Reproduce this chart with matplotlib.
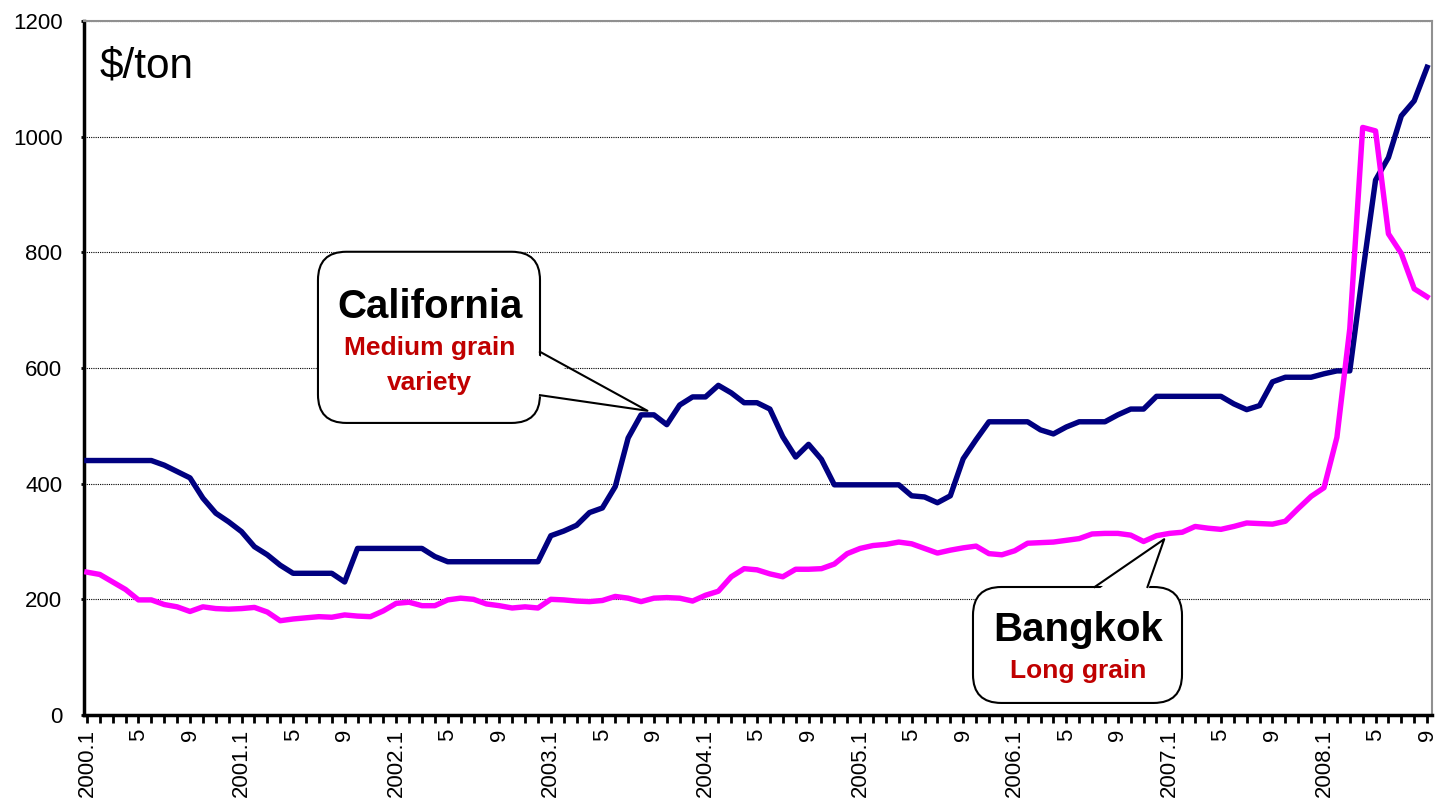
import numpy as np
import matplotlib
matplotlib.use("Agg")
import matplotlib.pyplot as plt
from matplotlib.patches import FancyBboxPatch, Polygon

plt.rcParams['font.family'] = ['Liberation Sans', 'DejaVu Sans']

# monthly prices, 2000.1 .. 2008.9 ($/ton)
california = [440, 440, 440, 440, 440, 440, 432, 421, 410, 375, 349, 334,
              317, 291, 277, 259, 245, 245, 245, 245, 230, 288, 288, 288,
              288, 288, 288, 274, 265, 265, 265, 265, 265, 265, 265, 265,
              310, 318, 328, 350, 358, 395, 479, 519, 519, 502, 536, 550,
              550, 570, 557, 540, 540, 529, 481, 446, 468, 442, 398, 398,
              398, 398, 398, 398, 379, 377, 367, 379, 443, 476, 507, 507,
              507, 507, 493, 486, 498, 507, 507, 507, 519, 529, 529, 551,
              551, 551, 551, 551, 551, 538, 528, 535, 576, 584, 584, 584,
              590, 595, 595, 764, 925, 964, 1036, 1062, 1120]
bangkok = [247, 243, 230, 217, 199, 199, 191, 187, 179, 187, 184, 183,
           184, 186, 178, 163, 166, 168, 170, 169, 173, 171, 170, 180,
           193, 195, 189, 189, 199, 202, 200, 192, 189, 185, 187, 185,
           200, 199, 197, 196, 198, 205, 202, 196, 202, 203, 202, 197,
           207, 214, 239, 253, 251, 244, 239, 252, 252, 253, 261, 279,
           288, 293, 295, 299, 296, 288, 280, 285, 289, 292, 279, 277,
           284, 297, 298, 299, 302, 305, 313, 314, 314, 311, 300, 310,
           314, 316, 326, 323, 321, 326, 332, 331, 330, 335, 357, 378,
           393, 480, 668, 1016, 1010, 832, 798, 737, 723]
years = list(range(2000, 2009))
tick_months = [1, 5, 9]

x = np.arange(len(california))
labels = []
pos = []
for i in x:
    yr = years[i // 12]
    m = i % 12 + 1
    if m in tick_months:
        pos.append(i)
        labels.append(f"{yr}.{m}" if m == 1 else str(m))

fig = plt.figure(figsize=(14.35, 8.02), dpi=100)
ax = fig.add_axes([0.0585, 0.1085, 0.9395, 0.8653])

ax.plot(x, california, color='#000080', lw=3.9, solid_joinstyle='round', zorder=3)
ax.plot(x, bangkok, color='#FF00FF', lw=3.9, solid_joinstyle='round', zorder=3)

ax.set_xlim(-0.23, 104.39)
ax.set_ylim(0, 1200)
ax.set_yticks(range(0, 1201, 200))
ax.yaxis.grid(True, color='black', ls=(0, (1, 1)), lw=0.8)
ax.set_axisbelow(True)

ax.set_xticks(pos)
ax.set_xticklabels(labels, rotation=90, fontsize=16)
ax.set_xticks(x, minor=True)
ax.tick_params(axis='x', which='both', direction='out', length=6, width=2, pad=4)
ax.tick_params(axis='y', direction='out', length=2.5, width=2, labelsize=16, pad=13)

for s in ['left', 'bottom']:
    ax.spines[s].set_linewidth(2.5)
for s in ['top', 'right']:
    ax.spines[s].set_color('#909090')
    ax.spines[s].set_linewidth(1.5)

ax.text(1.0, 1122, "$/ton", fontsize=30.5, va='center', ha='left')

asp = (1 / 0.5783) / (1 / 12.885)
red = '#C00000'

# California callout
ax.add_patch(FancyBboxPatch((17.93, 505), 17.23, 296,
                            boxstyle="round,pad=0,rounding_size=2.2",
                            mutation_aspect=asp, fc='white', ec='black',
                            lw=1.5, zorder=5))
ax.add_patch(Polygon([(34.5, 628), (43.5, 526), (34.5, 553)], closed=True,
                     fc='white', ec='none', zorder=6))
ax.plot([35.16, 43.5, 35.16], [628, 526, 553], color='black', lw=1.5, zorder=6)
ax.text(26.6, 705, "California", fontsize=29, fontweight='bold',
        ha='center', va='center', zorder=7)
ax.text(26.6, 634, "Medium grain", fontsize=19, fontweight='bold', color=red,
        ha='center', va='center', zorder=7)
ax.text(26.6, 574, "variety", fontsize=19, fontweight='bold', color=red,
        ha='center', va='center', zorder=7)

# Bangkok callout
ax.add_patch(FancyBboxPatch((68.76, 20.8), 16.22, 200.5,
                            boxstyle="round,pad=0,rounding_size=2.2",
                            mutation_aspect=asp, fc='white', ec='black',
                            lw=1.5, zorder=5))
ax.add_patch(Polygon([(78.2, 212), (83.6, 304), (82.3, 212)], closed=True,
                     fc='white', ec='none', zorder=6))
ax.plot([78.2, 83.6, 82.3], [221.3, 304, 221.3], color='black', lw=1.5, zorder=6)
ax.text(76.9, 147, "Bangkok", fontsize=29, fontweight='bold',
        ha='center', va='center', zorder=7)
ax.text(76.9, 76, "Long grain", fontsize=19, fontweight='bold', color=red,
        ha='center', va='center', zorder=7)

fig.savefig("out.png", dpi=100)
